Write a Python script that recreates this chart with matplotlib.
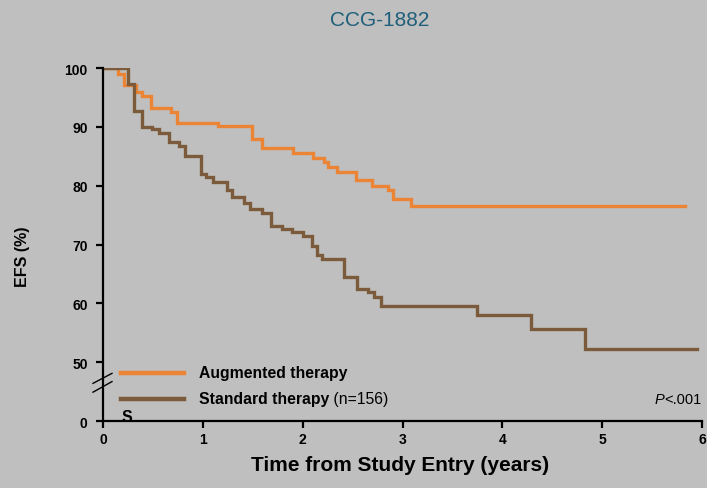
import matplotlib
matplotlib.use("Agg")
import matplotlib.pyplot as plt
from matplotlib.lines import Line2D

plt.rcParams['font.family'] = ['Liberation Sans', 'DejaVu Sans']

# Data
aug_t = [0, 0.15, 0.21, 0.33, 0.39, 0.48, 0.68, 0.74, 1.15, 1.49, 1.59, 1.90, 2.10,
         2.21, 2.25, 2.34, 2.53, 2.69, 2.85, 2.90, 3.09, 5.83]
aug_s = [100, 99.0, 97.1, 95.9, 95.3, 93.2, 92.5, 90.7, 90.2, 88.0, 86.4, 85.6, 84.7,
         84.1, 83.2, 82.4, 81.0, 80.0, 79.2, 77.8, 76.5, 76.5]
std_t = [0, 0.25, 0.31, 0.39, 0.49, 0.56, 0.66, 0.76, 0.82, 0.98, 1.03, 1.10, 1.24, 1.29,
         1.41, 1.47, 1.59, 1.68, 1.79, 1.89, 2.00, 2.09, 2.14, 2.19, 2.41, 2.54, 2.65,
         2.71, 2.78, 3.75, 4.29, 4.83, 5.95]
std_s = [100, 97.3, 92.7, 90.0, 89.7, 89.0, 87.5, 86.8, 85.1, 82.0, 81.5, 80.7, 79.3, 78.1,
         77.1, 76.1, 75.4, 73.1, 72.7, 72.2, 71.4, 69.7, 68.3, 67.5, 64.4, 62.5, 62.0,
         61.0, 59.6, 58.0, 55.6, 52.2, 52.2]
x_ticks = [0, 1, 2, 3, 4, 5, 6]
y_tick_labels = ['0', '50', '60', '70', '80', '90', '100']
y_tick_pos = [40, 50, 60, 70, 80, 90, 100]   # broken axis: 0 drawn at 40

BG = '#bfbfbf'
ORANGE = '#ec8435'
BROWN = '#7b5b3b'

fig = plt.figure(figsize=(7.07, 4.89), dpi=100, facecolor=BG)
ax = fig.add_axes([103/707, 1-422/489, (702-103)/707, (422-69)/489])
ax.set_facecolor(BG)

ax.plot(aug_t, aug_s, drawstyle='steps-post', color=ORANGE, lw=2.4, solid_joinstyle='miter')
ax.plot(std_t, std_s, drawstyle='steps-post', color=BROWN, lw=2.4, solid_joinstyle='miter')

ax.set_xlim(0, 6)
ax.set_ylim(40, 100)
ax.set_xticks(x_ticks)
ax.set_xticklabels([str(v) for v in x_ticks], fontweight='bold', fontsize=10)
ax.set_yticks(y_tick_pos)
ax.set_yticklabels(y_tick_labels, fontweight='bold', fontsize=10)
for s in ['top', 'right']:
    ax.spines[s].set_visible(False)
for s in ['left', 'bottom']:
    ax.spines[s].set_linewidth(1.6)
    ax.spines[s].set_color('black')
ax.tick_params(axis='both', length=5, width=1.6, direction='out', pad=3)
ax.tick_params(axis='y', pad=6)
for sp in ax.spines.values():
    sp.set_clip_on(False)

# axis break marks
ax.add_line(Line2D([-0.10, 0.09], [46.4, 48.1], color='black', lw=1.0, clip_on=False))
ax.add_line(Line2D([-0.10, 0.09], [44.9, 46.7], color='black', lw=1.0, clip_on=False))

ax.set_xlabel('Time from Study Entry (years)', fontweight='bold', fontsize=15)
ax.xaxis.set_label_coords(0.496, -0.096)
ax.set_ylabel('EFS (%)', fontweight='bold', fontsize=11.5)
ax.yaxis.set_label_coords(-0.122, 0.467)
fig.text(380/707, 1-20/489, 'CCG-1882', ha='center', va='center', fontsize=15,
         color='#1f5f7a')

# legend
ax.add_line(Line2D([0.18, 0.81], [48.2, 48.2], color=ORANGE, lw=3.2, clip_on=False))
ax.add_line(Line2D([0.18, 0.81], [43.8, 43.8], color=BROWN, lw=3.2, clip_on=False))
ax.text(0.96, 48.2, 'Augmented therapy', fontweight='bold', fontsize=11.3, va='center')
t = ax.text(0.96, 43.8, 'Standard therapy', fontweight='bold', fontsize=11.3, va='center')
ax.annotate(' (n=156)', xycoords=t, xy=(1, 0.5), va='center', fontsize=11.3)
ax.text(0.19, 40.7, 'S', fontweight='bold', fontsize=11.5, va='center')
p = ax.text(5.52, 43.8, 'P', fontstyle='italic', fontsize=10.5, va='center', ha='left')
ax.annotate('<.001', xycoords=p, xy=(1, 0.5), va='center', fontsize=10.5)

fig.savefig('out.png', dpi=100, facecolor=BG)
